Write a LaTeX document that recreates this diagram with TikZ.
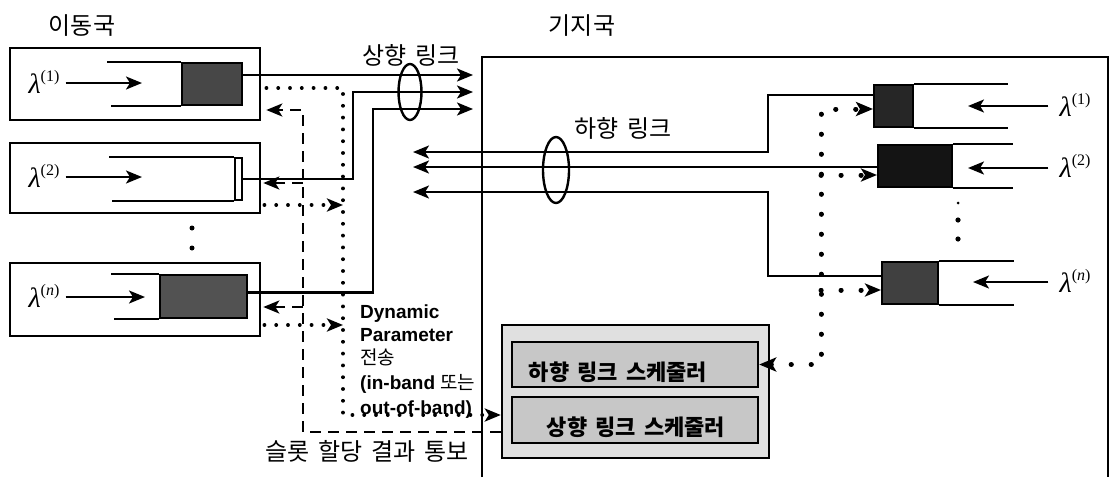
\documentclass[tikz,border=0pt]{standalone}
\usepackage{fontspec}
\setmainfont{Liberation Sans}
\newfontfamily\kr[WordSpace=1.6]{Noto Sans CJK KR}
\newfontfamily\lser{Liberation Serif}
\newcommand{\lamb}[1]{{\lser\itshape λ}\raisebox{0.45em}{\fontsize{16}{17}\selectfont\lser(#1)}}
\usetikzlibrary{arrows.meta,shapes.geometric}
\begin{document}
\begin{tikzpicture}[x=1pt,y=-1pt,
  box/.style={draw,line width=2.6pt,inner sep=0pt},
  qbox/.style={draw,line width=2pt,inner sep=0pt},
  qline/.style={line width=2.2pt},
  conn/.style={line width=2.2pt,-{Stealth[length=16pt,width=13pt,inset=4pt]}},
  tip/.style={-{Stealth[length=16pt,width=13pt,inset=4pt]}},
  dotL/.style={line width=3.6pt,line cap=round,dash pattern=on 0.2pt off 11.6pt},
  dotR/.style={line width=5pt,line cap=round,dash pattern=on 0.2pt off 19.8pt},
  dashS/.style={line width=2.4pt,dash pattern=on 11pt off 7pt},
  lam/.style={font=\fontsize{28}{30}\selectfont,inner sep=0pt},
  krlab/.style={font=\kr\fontsize{24}{28}\selectfont,inner sep=0pt},
  krb/.style={font=\kr\bfseries\fontsize{22}{26}\selectfont,inner sep=0pt},
  dyn/.style={font=\bfseries\fontsize{19}{22}\selectfont,inner sep=0pt,anchor=base west},
  sched/.style={draw,line width=2.4pt,inner sep=0pt}]
\useasboundingbox (0,0) rectangle (1113,477);

% titles
\node[krlab] (tMS) at (82,26) {이동국};
\node[krlab] (tBS) at (582,26) {기지국};
\node[krlab] (tUL) at (411,55) {상향 링크};
\node[krlab] (tDL) at (623,128) {하향 링크};
\node[krlab] (tSlot) at (367,451) {슬롯 할당 결과 통보};

% base station
\draw[line width=2.6pt] (482,477) -- (482,57) -- (1108,57) -- (1108,477);

% mobile boxes
\node[box,minimum width=250pt,minimum height=72pt] (m1) at (135,84) {};
\node[box,minimum width=250pt,minimum height=70pt] (m2) at (135,178) {};
\node[box,minimum width=250pt,minimum height=73pt] (mn) at (135,299.5) {};

% mobile queues
\node[qbox,fill=black!72,minimum width=60pt,minimum height=42pt] (q1) at (212,84) {};
\draw[qline] (q1.north west) -- ++(-74,0);
\draw[qline] (q1.south west) -- ++(-70,0);
\node[qbox,fill=white,minimum width=7pt,minimum height=42pt] (q2) at (238.5,179) {};
\draw[qline] (q2.north west) -- ++(-125,0);
\draw[qline] (q2.south west) -- ++(-122,0);
\node[qbox,fill=black!68,minimum width=87pt,minimum height=43pt] (qn) at (203.5,296.5) {};
\draw[qline] (qn.north west) -- ++(-48,0);
\draw[qline] (qn.south west) -- ++(-45,0);

% lambdas left
\node[lam] (l1) at (44,82) {\lamb{1}};
\node[lam] (l2) at (44,176) {\lamb{2}};
\node[lam] (ln) at (44,296) {\lamb{\textit{n}}};
\coordinate (a1) at (142,83);
\coordinate (a2) at (142,177);
\coordinate (an) at (145,297);
\draw[conn,shorten <=6pt] (l1.east |- a1) -- (a1);
\draw[conn,shorten <=6pt] (l2.east |- a2) -- (a2);
\draw[conn,shorten <=6pt] (ln.east |- an) -- (an);

\fill (192,228) circle[radius=2.5];
\fill (192,248) circle[radius=2.5];

% uplink
\coordinate (ut1) at (473,75);
\coordinate (ut2) at (473,92);
\coordinate (ut3) at (473,109);
\draw[conn] (q1.east |- ut1) -- (ut1);
\draw[conn] (q2.east) -- ++(110,0) |- (ut2);
\draw[conn] ([yshift=4pt]qn.east) -- ++(125,0) |- (ut3);
\node[draw,ellipse,line width=2.4pt,minimum width=23pt,minimum height=56pt,inner sep=0pt] (eUL) at (410,92) {};

% base station queues
\node[qbox,fill=black!85,minimum width=39pt,minimum height=42pt] (rq1) at (893.5,106) {};
\draw[qline] (rq1.north east) -- ++(94,0);
\draw[qline] (rq1.south east) -- ++(94,0);
\node[qbox,fill=black!92,minimum width=74pt,minimum height=42pt] (rq2) at (915,166) {};
\draw[qline] (rq2.north east) -- ++(60,0);
\draw[qline] (rq2.south east) -- ++(60,0);
\node[qbox,fill=black!75,minimum width=56pt,minimum height=42pt] (rqn) at (910,283) {};
\draw[qline] (rqn.north east) -- ++(75,0);
\draw[qline] (rqn.south east) -- ++(75,0);

\node[lam] (rl1) at (1075,105) {\lamb{1}};
\node[lam] (rl2) at (1075,166) {\lamb{2}};
\node[lam] (rln) at (1075,281) {\lamb{\textit{n}}};
\coordinate (ra1) at (968,106);
\coordinate (ra2) at (968,168);
\coordinate (ran) at (973,282);
\draw[conn,shorten <=11pt] (rl1.west |- ra1) -- (ra1);
\draw[conn,shorten <=11pt] (rl2.west |- ra2) -- (ra2);
\draw[conn,shorten <=11pt] (rln.west |- ran) -- (ran);

\fill (958,203) circle[radius=1.5];
\fill (958,220) circle[radius=2.6];
\fill (958,239) circle[radius=2.6];

% downlink
\coordinate (dt1) at (413,152);
\coordinate (dt2) at (413,167);
\coordinate (dt3) at (413,192);
\draw[conn] ([yshift=11pt]rq1.west) -- ++(-105,0) |- (dt1);
\draw[conn] (rq2.west |- dt2) -- (dt2);
\draw[conn] ([yshift=7pt]rqn.west) -- ++(-113,0) |- (dt3);
\node[draw,ellipse,line width=2.4pt,minimum width=26pt,minimum height=66pt,inner sep=0pt] (eDL) at (556,170) {};

% schedulers
\node[sched,fill=black!12,minimum width=267pt,minimum height=133pt] (sb) at (635.5,391.5) {};
\node[sched,fill=black!22,minimum width=246pt,minimum height=45pt] (s1) at (635,364.5) {};
\node[sched,fill=black!22,minimum width=246pt,minimum height=46pt] (s2) at (635,420) {};
\node[krb] (ts1) at (618,372) {하향 링크 스케줄러};
\node[krb] (ts2) at (636,427) {상향 링크 스케줄러};

% dotted control (base station)
\coordinate (v1) at (821,109);
\coordinate (v2) at (821,175);
\coordinate (v3) at (821,290);
\draw[dotR,{Stealth[length=17pt,width=14pt,inset=4pt]}-{Stealth[length=17pt,width=14pt,inset=4pt]}] (s1.east) -| (v1) -- (v1 -| rq1.west);
\draw[dotR,tip] (v2) -- (v2 -| rq2.west);
\draw[dotR,tip] (v3) -- (v3 -| rqn.west);

% dotted parameter transmission (mobiles)
\coordinate (pv) at (343,88);
\coordinate (pe) at (343,415);
\coordinate (pb2) at (343,205);
\coordinate (pbn) at (343,325);
\draw[dotL,tip] ([xshift=5pt]m1.east |- pv) -- (pv) -- (pe) -- (pe -| sb.west);
\draw[dotL,tip] ([xshift=3pt]m2.east |- pb2) -- (pb2);
\draw[dotL,tip] ([xshift=3pt]mn.east |- pbn) -- (pbn);

% dashed slot allocation notification
\coordinate (dv) at (303,432);
\coordinate (dtop) at (303,110);
\coordinate (db2) at (303,183);
\coordinate (dbn) at (303,307);
\draw[dashS,tip] (sb.west |- dv) -- (dv) -- (dtop) -- ([xshift=5pt]m1.east |- dtop);
\draw[dashS,tip] (db2) -- ([xshift=2pt]m2.east |- db2);
\draw[dashS,tip] (dbn) -- ([xshift=2pt]mn.east |- dbn);

% parameter text
\node[dyn] (d1) at (360,318) {Dynamic};
\node[dyn] (d2) at (360,341) {Parameter};
\node[dyn] (d3) at (360,364) {\kr\mdseries 전송};
\node[dyn] (d4) at (360,389) {(in-band {\kr\mdseries 또는}};
\node[dyn] (d5) at (360,414) {out-of-band)};
\end{tikzpicture}
\end{document}
